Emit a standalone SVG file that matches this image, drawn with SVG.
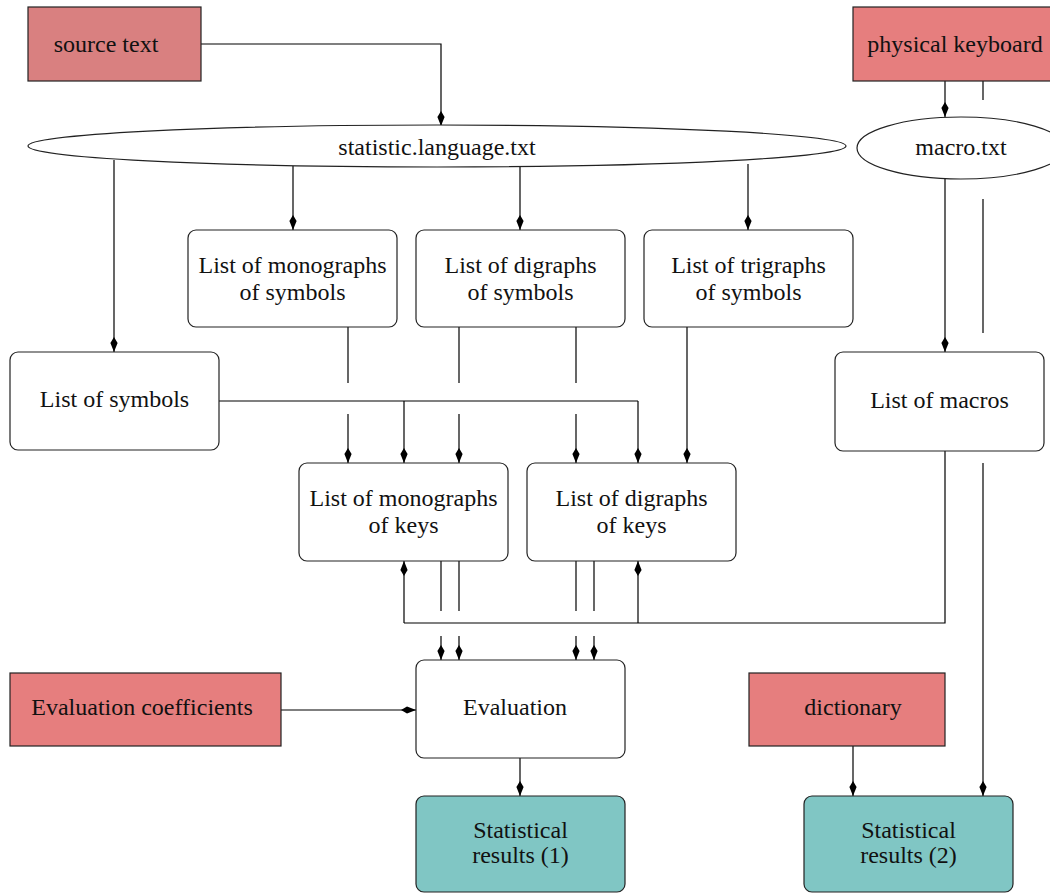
<svg xmlns="http://www.w3.org/2000/svg" width="1050" height="893" viewBox="0 0 1050 893">
<style>
text{font-family:"Liberation Serif","Times New Roman",serif;font-size:24px;fill:#111;text-anchor:middle}
.c{fill:none;stroke:#000;stroke-width:1.2}
.a{marker-end:url(#arr)}
.box{fill:#fff;stroke:#222;stroke-width:1.2}
.red{fill:#e67e7e;stroke:#222;stroke-width:1.2}
.red2{fill:#d98080;stroke:#222;stroke-width:1.2}
.teal{fill:#80c6c4;stroke:#222;stroke-width:1.2}
</style>
<defs>
<marker id="arr" markerUnits="userSpaceOnUse" viewBox="-16 -5 17 10" refX="0" refY="0" markerWidth="17" markerHeight="10" orient="auto">
<path d="M0,0 L-9,-3.6 L-15,0 L-9,3.6 Z" fill="#000"/>
</marker>
</defs>
<rect width="1050" height="893" fill="#fff"/>
<g id="connectors">
<path class="c a" d="M201,44 H441 V126"/>
<path class="c a" d="M114,160 V352"/>
<path class="c a" d="M293,166 V230"/>
<path class="c a" d="M520,167 V230"/>
<path class="c a" d="M748,164 V230"/>
<path class="c a" d="M945,81 V117"/>
<path class="c" d="M983,81 V100"/>
<path class="c" d="M983,199 V333"/>
<path class="c a" d="M983,463 V796"/>
<path class="c a" d="M945,179 V352"/>
<path class="c" d="M348,327 V383"/>
<path class="c a" d="M348,414 V463"/>
<path class="c" d="M459,327 V383"/>
<path class="c a" d="M459,414 V463"/>
<path class="c" d="M576,327 V383"/>
<path class="c a" d="M576,414 V463"/>
<path class="c a" d="M687,327 V463"/>
<path class="c" d="M219,401 H638"/>
<path class="c a" d="M404,401 V463"/>
<path class="c a" d="M638,401 V463"/>
<path class="c" d="M945,451 V623 H404"/>
<path class="c a" d="M404,623 V561"/>
<path class="c a" d="M638,623 V561"/>
<path class="c" d="M441,561 V611"/>
<path class="c a" d="M441,636 V660"/>
<path class="c" d="M459,561 V611"/>
<path class="c a" d="M459,636 V660"/>
<path class="c" d="M576,561 V611"/>
<path class="c a" d="M576,636 V660"/>
<path class="c" d="M594,561 V611"/>
<path class="c a" d="M594,636 V660"/>
<path class="c a" d="M281,710 H416"/>
<path class="c a" d="M520,758 V796"/>
<path class="c a" d="M853,746 V796"/>
</g>
<g id="source_text"><rect class="red2" x="28" y="7" width="173" height="74"/><text x="106" y="52">source text</text></g>
<g id="physical_keyboard"><rect class="red" x="853" y="7" width="204" height="74"/><text x="955" y="52">physical keyboard</text></g>
<g id="statistic_language"><ellipse class="box" cx="437" cy="146" rx="409" ry="21"/><text x="437" y="155">statistic.language.txt</text></g>
<g id="macro_txt"><ellipse class="box" cx="961" cy="148" rx="104" ry="31"/><text x="961" y="155">macro.txt</text></g>
<g id="mono_symbols"><rect class="box" x="188" y="230" width="209" height="97" rx="8"/><text x="292.5" y="273">List of monographs</text><text x="292.5" y="300">of symbols</text></g>
<g id="di_symbols"><rect class="box" x="416" y="230" width="209" height="97" rx="8"/><text x="520.5" y="273">List of digraphs</text><text x="520.5" y="300">of symbols</text></g>
<g id="tri_symbols"><rect class="box" x="644" y="230" width="209" height="97" rx="8"/><text x="748.5" y="273">List of trigraphs</text><text x="748.5" y="300">of symbols</text></g>
<g id="list_symbols"><rect class="box" x="10" y="352" width="209" height="98" rx="8"/><text x="114.5" y="407">List of symbols</text></g>
<g id="list_macros"><rect class="box" x="835" y="352" width="209" height="99" rx="8"/><text x="939.5" y="408">List of macros</text></g>
<g id="mono_keys"><rect class="box" x="299" y="463" width="209" height="98" rx="8"/><text x="403.5" y="506">List of monographs</text><text x="403.5" y="533">of keys</text></g>
<g id="di_keys"><rect class="box" x="527" y="463" width="209" height="98" rx="8"/><text x="631.5" y="506">List of digraphs</text><text x="631.5" y="533">of keys</text></g>
<g id="eval_coeff"><rect class="red" x="10" y="673" width="271" height="73"/><text x="142" y="715">Evaluation coefficients</text></g>
<g id="evaluation"><rect class="box" x="416" y="660" width="209" height="98" rx="8"/><text x="515" y="715">Evaluation</text></g>
<g id="dictionary"><rect class="red" x="749" y="673" width="196" height="73"/><text x="853" y="715">dictionary</text></g>
<g id="stat1"><rect class="teal" x="416" y="796" width="209" height="96" rx="8"/><text x="520.5" y="838">Statistical</text><text x="520.5" y="863">results (1)</text></g>
<g id="stat2"><rect class="teal" x="804" y="796" width="209" height="96" rx="8"/><text x="908.5" y="838">Statistical</text><text x="908.5" y="863">results (2)</text></g>
</svg>
